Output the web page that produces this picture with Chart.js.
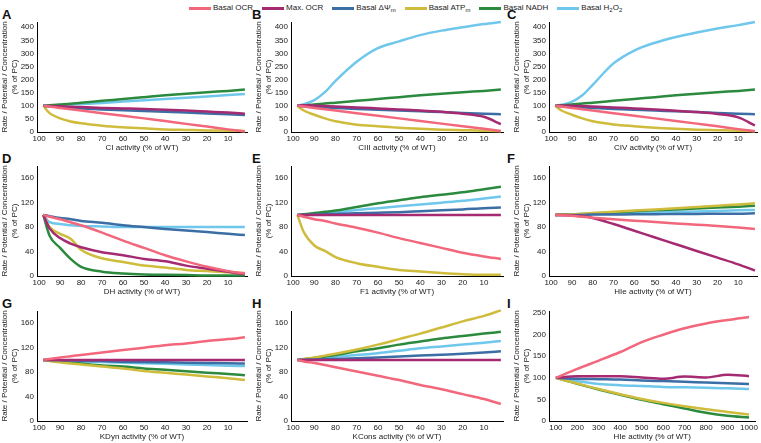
<!DOCTYPE html>
<html>
<head>
<meta charset="utf-8">
<script src="https://cdn.jsdelivr.net/npm/chart.js@4.4.0/dist/chart.umd.min.js"></script>
<style>
body{margin:0;background:#fff;width:761px;height:443px;position:relative;overflow:hidden;font-family:"Liberation Sans",Arial,sans-serif;}
canvas{position:absolute;}
.lbl{position:absolute;font-weight:bold;font-size:13px;color:#111;line-height:13px;}
#legend{position:absolute;top:3px;left:189px;display:flex;align-items:center;font-size:8px;color:#222;line-height:10px;}
.item{display:flex;align-items:center;margin-right:9px;}
.swatch{width:22px;height:3px;margin-right:2px;}
sub{font-size:6px;vertical-align:-2px;line-height:0;}
</style>
</head>
<body>
<div id="legend"></div>
<div class="lbl" style="left:2px;top:8px">A</div>
<div class="lbl" style="left:252px;top:8px">B</div>
<div class="lbl" style="left:507px;top:8px">C</div>
<div class="lbl" style="left:2px;top:152px">D</div>
<div class="lbl" style="left:252px;top:152px">E</div>
<div class="lbl" style="left:507px;top:152px">F</div>
<div class="lbl" style="left:2px;top:297px">G</div>
<div class="lbl" style="left:252px;top:297px">H</div>
<div class="lbl" style="left:507px;top:297px">I</div>
<script>
// series (same order in every panel)
const seriesNames = ['Basal OCR', 'Max. OCR', 'Basal ΔΨ<sub>m</sub>', 'Basal ATP<sub>m</sub>', 'Basal NADH', 'Basal H<sub>2</sub>O<sub>2</sub>'];
const seriesColors = ['#f2677b', '#a52a72', '#3b6ea5', '#cfbc3c', '#2b8a3e', '#6fc7ec'];

// x values (% of WT activity)
const xPct = [98, 95, 90, 85, 80, 70, 60, 50, 40, 30, 20, 10, 2];
const xHIe = [100, 200, 300, 400, 500, 600, 700, 800, 900, 1000];

// tick labels
const xTicksPct = [100, 90, 80, 70, 60, 50, 40, 30, 20, 10];
const xTicksHIe = [100, 200, 300, 400, 500, 600, 700, 800, 900, 1000];
const yTicksTop = [0, 50, 100, 150, 200, 250, 300, 350, 400];
const yTicksPct = [0, 40, 80, 120, 160];
const yTicksI = [0, 50, 100, 150, 200, 250];

// values: OCR, Max OCR, dPsi, ATP, NADH, H2O2
const ciVals = [
    [100, 97, 92, 87, 82, 72, 62, 52, 42, 31, 21, 10, 2],
    [100, 99, 98, 96, 95, 92, 90, 88, 85, 82, 78, 74, 70],
    [100, 98, 95, 92, 90, 86, 83, 80, 77, 74, 71, 68, 65],
    [100, 72, 52, 40, 33, 24, 18, 14, 10, 8, 6, 5, 4],
    [100, 102, 105, 108, 112, 119, 126, 133, 140, 146, 152, 157, 162],
    [100, 101, 103, 105, 107, 111, 116, 121, 126, 131, 136, 141, 145]
];
const ciiiVals = [
    [100, 97, 92, 87, 82, 72, 62, 52, 42, 32, 22, 12, 4],
    [100, 102, 101, 99, 97, 94, 90, 86, 82, 77, 70, 58, 30],
    [100, 98, 96, 94, 92, 88, 85, 82, 79, 76, 73, 70, 68],
    [100, 82, 66, 52, 41, 28, 22, 16, 12, 9, 7, 5, 3],
    [100, 102, 105, 109, 112, 119, 126, 133, 140, 146, 152, 157, 162],
    [100, 106, 122, 152, 195, 268, 320, 346, 370, 387, 400, 412, 420]
];
const civVals = [
    [100, 97, 92, 87, 82, 72, 62, 52, 42, 32, 22, 11, 3],
    [100, 101, 100, 99, 97, 94, 90, 86, 81, 76, 69, 56, 25],
    [100, 98, 96, 94, 92, 88, 85, 82, 79, 76, 73, 70, 68],
    [100, 82, 66, 52, 41, 29, 22, 16, 12, 9, 7, 5, 3],
    [100, 102, 105, 109, 112, 119, 126, 133, 140, 146, 152, 157, 162],
    [100, 104, 115, 140, 180, 262, 311, 341, 363, 380, 395, 408, 420]
];
const dhVals = [
    [100, 97, 93, 88, 83, 71, 58, 46, 34, 24, 15, 8, 4],
    [100, 78, 62, 53, 47, 39, 34, 28, 24, 17, 12, 7, 3],
    [100, 98, 95, 93, 90, 87, 83, 80, 77, 74.5, 72, 69, 67],
    [100, 80, 69, 61, 43, 29, 23, 17, 14, 10, 8, 6, 5],
    [100, 66, 46, 28, 15, 7, 4, 2.5, 2, 1.5, 1, 1, 1],
    [100, 88, 85, 83, 82, 81, 80, 80, 80, 80, 80, 80, 80]
];
const f1Vals = [
    [100, 97, 93, 90, 86, 79, 71, 62, 54, 46, 38, 32, 28],
    [100, 100, 100, 100, 100, 100, 100, 100, 100, 100, 100, 100, 100],
    [100, 100, 100.5, 101, 101.5, 102.5, 103.5, 104.5, 106, 107.5, 109, 111, 112],
    [100, 72, 50, 41, 31, 21, 15, 10, 7.5, 5, 3, 2, 2],
    [100, 101, 103, 105, 107, 113, 119, 124, 129, 133, 137, 142, 146],
    [100, 100.5, 101, 102.5, 104, 108, 111, 114, 117, 120, 123, 127, 130]
];
const hieVals = [
    [100, 99.5, 98.5, 97, 95.5, 93, 90.5, 88.5, 86, 84, 82, 79.5, 77],
    [100, 100, 99, 98, 95, 85, 74, 63, 52, 41, 30, 19, 9],
    [100, 100, 100, 100, 100.5, 100.5, 101, 101, 101.5, 101.5, 102, 102, 102.5],
    [100, 100.5, 101, 102, 103, 105, 107, 109, 111, 113, 115, 117, 119],
    [100, 100.5, 101, 101.5, 102.5, 104, 106, 107.5, 109, 110.5, 112, 113.5, 115],
    [100, 100, 100.5, 101, 101.5, 102, 103, 104, 105, 105.5, 106.5, 107.5, 108]
];
const kdynVals = [
    [100, 101.5, 104, 106, 108, 112, 116, 120, 124, 127, 131, 134, 137],
    [100, 100, 100, 100, 100, 100, 100, 100, 100, 100, 100, 100, 100],
    [100, 99.8, 99.5, 99, 98.5, 98, 97, 96.5, 96, 95.5, 95, 94.5, 94],
    [100, 98, 96, 94, 92.5, 89, 86, 82, 79, 76, 73, 70, 67],
    [100, 98.5, 97, 95.5, 94, 91, 89, 86, 84, 81.5, 79, 77, 75],
    [100, 99.5, 99, 98, 97.5, 96.5, 95.5, 94.5, 93.5, 92.5, 91.5, 90.5, 90]
];
const kconsVals = [
    [100, 97.5, 95, 91.5, 88, 81, 74, 67, 59, 52, 44, 36, 28],
    [100, 100, 100, 100, 100, 100, 100, 100, 100, 100, 100, 100, 100],
    [100, 100.3, 100.6, 101, 101.5, 102.5, 104, 105.5, 107, 108.5, 110, 112, 114],
    [100, 101.5, 104, 107, 110, 117, 125, 134, 143, 153, 163, 172, 181],
    [100, 101, 103, 105.5, 108, 114, 119, 125, 130, 135, 139, 143, 146],
    [100, 101, 102, 103.5, 105, 108, 111, 115, 119, 122, 125, 128, 131]
];
const hieUpVals = [
    [100, 121, 140, 160, 183, 200, 215, 226, 234, 241],
    [100, 104, 104, 104, 101, 98, 103, 101, 107, 104],
    [100, 98, 97, 96, 94, 92.5, 91, 89, 87.5, 86],
    [100, 87, 74, 62, 51, 42, 34, 27, 21, 15],
    [100, 86, 73, 61, 49, 39, 29, 19, 12, 8],
    [100, 92, 86, 83, 81, 79, 78, 77, 76, 74]
];

// Legend
const legend = document.getElementById('legend');
seriesNames.forEach(function(name, i) {
    const item = document.createElement('div');
    item.className = 'item';
    item.innerHTML = '<span class="swatch" style="background:' + seriesColors[i] + '"></span><span>' + name + '</span>';
    legend.appendChild(item);
});

const tickFont = { family: '"Liberation Sans", Arial, sans-serif', size: 8 };
const textColor = '#1a1a1a';

function makePanel(p) {
    const canvas = document.createElement('canvas');
    canvas.width = p.w;
    canvas.height = 139;
    canvas.style.left = p.left + 'px';
    canvas.style.top = p.top + 'px';
    document.body.appendChild(canvas);

    new Chart(canvas, {
        type: 'line',
        data: {
            datasets: p.vals.map(function(ys, i) {
                return {
                    label: seriesNames[i],
                    data: ys.map(function(y, j) { return { x: p.xs[j], y: y }; }),
                    borderColor: seriesColors[i],
                    borderWidth: 2.5,
                    pointRadius: 0,
                    cubicInterpolationMode: 'monotone',
                    fill: false,
                    clip: false
                };
            })
        },
        options: {
            responsive: false,
            animation: false,
            devicePixelRatio: 1,
            layout: { padding: { top: 8, right: 3, left: 0, bottom: 0 } },
            plugins: { legend: { display: false }, tooltip: { enabled: false } },
            scales: {
                x: {
                    type: 'linear',
                    reverse: p.reverse,
                    min: p.xMin,
                    max: p.xMax,
                    grid: { display: false, drawTicks: false },
                    border: { color: '#000', width: 1 },
                    ticks: { font: tickFont, color: textColor, padding: 2, maxRotation: 0, autoSkip: false,
                        callback: function(v) { return String(v); } },
                    afterBuildTicks: function(s) { s.ticks = p.xTicks.map(function(v) { return { value: v }; }); },
                    afterFit: function(s) { s.height = 21; },
                    title: { display: true, text: p.xTitle, font: tickFont, color: textColor, padding: 0 }
                },
                y: {
                    min: 0,
                    max: p.yMax,
                    grid: { display: false, drawTicks: false },
                    border: { color: '#000', width: 1 },
                    ticks: { font: tickFont, color: textColor, padding: 3,
                        callback: function(v) { return String(v); } },
                    afterBuildTicks: function(s) { s.ticks = p.yTicks.map(function(v) { return { value: v }; }); },
                    afterFit: function(s) { s.width = 37; },
                    title: { display: true, text: ['Rate / Potential / Concentration', '(% of PC)'],
                        font: tickFont, color: textColor, padding: { top: 0, bottom: 1 } }
                }
            }
        }
    });
}

const cols = [{ left: 0, w: 250 }, { left: 254, w: 252 }, { left: 512, w: 248 }];
const rows = [14, 158, 303];

function pctPanel(row, col, title, vals, yMax, yTicks) {
    makePanel({ left: cols[col].left, w: cols[col].w, top: rows[row], xTitle: title, xs: xPct, vals: vals,
        xMin: 1, xMax: 101, reverse: true, xTicks: xTicksPct, yMax: yMax, yTicks: yTicks });
}

pctPanel(0, 0, 'CI activity (% of WT)', ciVals, 420, yTicksTop);
pctPanel(0, 1, 'CIII activity (% of WT)', ciiiVals, 420, yTicksTop);
pctPanel(0, 2, 'CIV activity (% of WT)', civVals, 420, yTicksTop);
pctPanel(1, 0, 'DH activity (% of WT)', dhVals, 180, yTicksPct);
pctPanel(1, 1, 'F1 activity (% of WT)', f1Vals, 180, yTicksPct);
pctPanel(1, 2, 'HIe activity (% of WT)', hieVals, 180, yTicksPct);
pctPanel(2, 0, 'KDyn activity (% of WT)', kdynVals, 180, yTicksPct);
pctPanel(2, 1, 'KCons activity (% of WT)', kconsVals, 180, yTicksPct);

makePanel({ left: cols[2].left, w: cols[2].w, top: rows[2], xTitle: 'HIe activity (% of WT)', xs: xHIe, vals: hieUpVals,
    xMin: 68, xMax: 1030, reverse: false, xTicks: xTicksHIe, yMax: 255, yTicks: yTicksI });
</script>
</body>
</html>
